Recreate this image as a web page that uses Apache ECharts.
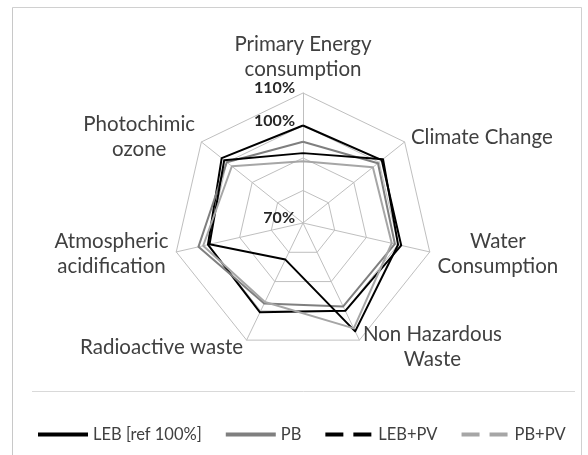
<!DOCTYPE html>
<html>
<head>
<meta charset="utf-8">
<script src="https://cdn.jsdelivr.net/npm/echarts@6/dist/echarts.min.js"></script>
<style>html,body{margin:0;padding:0;background:#fff}#c{width:588px;height:455px}</style>
</head>
<body>
<div id="c"></div>
<script>
// Axes listed clockwise from the top
const categories = ['Primary Energy\nconsumption', 'Climate Change', 'Water\nConsumption', 'Non Hazardous\nWaste', 'Radioactive waste', 'Atmospheric\nacidification', 'Photochimic\nozone'];
const seriesNames = ['LEB [ref 100%]', 'PB', 'LEB+PV', 'PB+PV'];
const leb   = [100, 101, 101, 100, 100.5, 100, 102];
const pb    = [95, 99.5, 99, 98.5, 97.5, 103, 100];
const lebPv = [91.5, 101.5, 100, 107, 82.5, 99.5, 101];
const pbPv  = [89, 97.5, 98, 106, 97, 101.5, 98];
const axisMin = 70, axisMax = 110, axisStep = 10;
const tickLabels = ['70%', '100%', '110%'];

// ECharts places radar indicators counter-clockwise; reorder so they read clockwise
const order = [0, 6, 5, 4, 3, 2, 1];
const font = 'Lato';
const indicator = order.map((i, k) => {
  const ind = { name: categories[i], min: axisMin, max: axisMax };
  if (k === 0) {
    ind.axisLabel = {
      show: true,
      formatter: v => tickLabels.indexOf(v + '%') >= 0 ? v + '%' : '',
      color: '#262626', fontWeight: 'bold', fontSize: 16, fontFamily: font,
      verticalAlign: 'bottom', lineHeight: 10
    };
  }
  return ind;
});
const pick = arr => order.map(i => arr[i]);

const colors = ['#000000', '#7f7f7f', '#000000', '#a6a6a6'];
const dataSets = [leb, pb, lebPv, pbPv];
const solidIcon = 'path://M0,0H50V4H0Z';
const dashIcon = 'path://M0,0H18V4H0Z M28,0H46V4H28Z';

const chart = echarts.init(document.getElementById('c'), null, { renderer: 'canvas' });
chart.setOption({
  animation: false,
  backgroundColor: '#ffffff',
  graphic: [
    { type: 'line', shape: { x1: 12.5, y1: 7.5, x2: 581.5, y2: 7.5 }, style: { stroke: '#d0d0d0', lineWidth: 1 } },
    { type: 'line', shape: { x1: 12.5, y1: 7.5, x2: 12.5, y2: 455 }, style: { stroke: '#c8c8c8', lineWidth: 1 } },
    { type: 'line', shape: { x1: 581.5, y1: 7.5, x2: 581.5, y2: 455 }, style: { stroke: '#d0d0d0', lineWidth: 1 } },
    { type: 'line', shape: { x1: 32, y1: 391.5, x2: 575, y2: 391.5 }, style: { stroke: '#d9d9d9', lineWidth: 1 } }
  ],
  legend: {
    left: 33, top: 421, width: 548,
    itemWidth: 50, itemHeight: 4, itemGap: 24,
    textStyle: { fontSize: 16.5, fontFamily: font, color: '#404040' },
    data: seriesNames.map((n, i) => ({ name: n, icon: i < 2 ? solidIcon : dashIcon }))
  },
  radar: {
    center: [303, 223],
    radius: 130,
    startAngle: 90,
    shape: 'polygon',
    splitNumber: (axisMax - axisMin) / axisStep,
    nameGap: 8,
    axisName: {
      color: '#404040', fontSize: 20.5, fontFamily: font,
      formatter: n => n.split('\n').map(s => '{c|' + s + '}').join('\n'),
      rich: { c: { align: 'center', fontSize: 20.5, fontFamily: font, color: '#404040', lineHeight: 25 } }
    },
    splitLine: { lineStyle: { color: '#bfbfbf', width: 1 } },
    splitArea: { show: false },
    axisLine: { lineStyle: { color: '#bfbfbf', width: 1 } },
    axisTick: { show: false },
    axisLabel: { show: false },
    indicator: indicator
  },
  series: [{
    type: 'radar',
    symbol: 'none',
    data: dataSets.map((d, i) => ({
      name: seriesNames[i],
      value: pick(d),
      itemStyle: { color: colors[i] },
      lineStyle: { color: colors[i], width: 2 }
    }))
  }]
});
</script>
</body>
</html>
